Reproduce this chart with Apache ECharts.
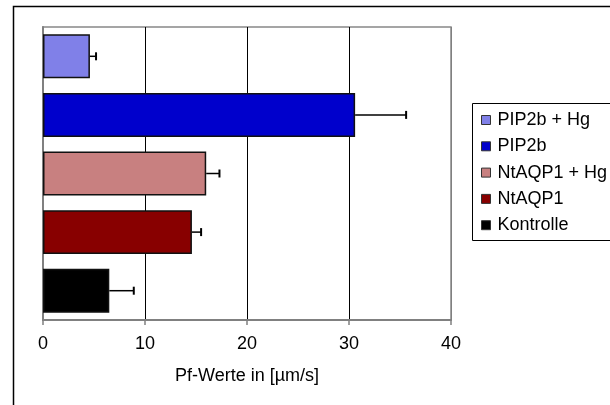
<!DOCTYPE html>
<html>
<head>
<meta charset="utf-8">
<script src="https://cdn.jsdelivr.net/npm/echarts@6/dist/echarts.min.js"></script>
<style>
  html, body { margin: 0; padding: 0; background: #fff; }
  #container { width: 610px; height: 405px; }
</style>
</head>
<body>
<div id="container"></div>
<script>
// categories from bottom to top (category axis starts at the bottom)
let groups = ['Kontrolle', 'NtAQP1', 'NtAQP1 + Hg', 'PIP2b', 'PIP2b + Hg']
let means = [6.5, 14.6, 16.0, 30.6, 4.6]
let errors = [2.4, 0.9, 1.3, 5.0, 0.6]
let colors = ['#000000', '#880000', '#c88080', '#0000cc', '#8080e8']
let legendOrder = ['PIP2b + Hg', 'PIP2b', 'NtAQP1 + Hg', 'NtAQP1', 'Kontrolle']
let xTicks = [0, 10, 20, 30, 40]

let font = '"Liberation Sans", Arial, sans-serif'

let barSeries = groups.map((name, i) => ({
  name: name,
  type: 'bar',
  stack: 'all',
  barWidth: '75%',
  itemStyle: {
    color: colors[i],
    borderColor: '#111',
    borderWidth: 1.5
  },
  data: groups.map((g, j) => (j === i ? means[i] : '-'))
}))

let errorData = groups.map((g, i) => [i, means[i], means[i] + errors[i]])

let options = {
  animation: false,
  textStyle: { fontFamily: font },
  graphic: [
    {
      type: 'rect',
      shape: { x: 13.5, y: 6.5, width: 700, height: 500 },
      style: { fill: 'none', stroke: '#000', lineWidth: 1.5 },
      silent: true
    },
    {
      // legend frame runs past the right edge like in the original
      type: 'rect',
      shape: { x: 472.5, y: 103.5, width: 200, height: 137 },
      style: { fill: 'none', stroke: '#000', lineWidth: 1 },
      silent: true
    }
  ],
  grid: {
    left: 43,
    right: 159,
    top: 27,
    bottom: 85,
    show: true,
    borderColor: '#888',
    borderWidth: 1.5
  },
  legend: {
    orient: 'vertical',
    left: 472,
    top: 103,
    padding: [8, 9, 6, 9],
    itemGap: 8.3,
    itemWidth: 9,
    itemHeight: 9,
    icon: 'rect',
    borderWidth: 0,
    data: legendOrder,
    itemStyle: { borderColor: '#333', borderWidth: 1 },
    textStyle: {
      fontFamily: font,
      fontSize: 18,
      lineHeight: 18,
      color: '#000',
      padding: [0, 0, 0, 2]
    }
  },
  xAxis: {
    type: 'value',
    min: 0,
    max: 40,
    interval: 10,
    name: 'Pf-Werte in [µm/s]',
    nameLocation: 'middle',
    nameGap: 47,
    nameTextStyle: { fontFamily: font, fontSize: 18, color: '#000' },
    axisLine: { show: true, lineStyle: { color: '#808080', width: 2 } },
    axisTick: { show: true, length: 5, lineStyle: { color: '#808080', width: 1.5 } },
    axisLabel: {
      fontFamily: font,
      fontSize: 18,
      color: '#000',
      margin: 15,
      formatter: v => (xTicks.includes(v) ? String(v) : '')
    },
    splitLine: {
      show: true,
      lineStyle: { color: ['#808080', '#000', '#000', '#000', '#808080'], width: 1 }
    }
  },
  yAxis: {
    type: 'category',
    data: groups,
    axisLine: { show: true, lineStyle: { color: '#808080', width: 2 } },
    axisTick: { show: false },
    axisLabel: { show: false },
    splitLine: { show: false }
  },
  series: barSeries.concat([
    {
      type: 'custom',
      name: 'error',
      z: 10,
      data: errorData,
      renderItem: (params, api) => {
        let cat = api.value(0)
        let start = api.coord([api.value(1), cat])
        let end = api.coord([api.value(2), cat])
        let cap = 4
        return {
          type: 'group',
          children: [
            {
              type: 'line',
              shape: { x1: start[0], y1: start[1], x2: end[0], y2: end[1] },
              style: { stroke: '#000', lineWidth: 1.5 }
            },
            {
              type: 'line',
              shape: { x1: end[0], y1: end[1] - cap, x2: end[0], y2: end[1] + cap },
              style: { stroke: '#000', lineWidth: 2 }
            }
          ]
        }
      }
    }
  ])
}

let mychart = echarts.init(document.getElementById('container'))
mychart.setOption(options)
window.addEventListener('resize', () => { mychart.resize() })
</script>
</body>
</html>
